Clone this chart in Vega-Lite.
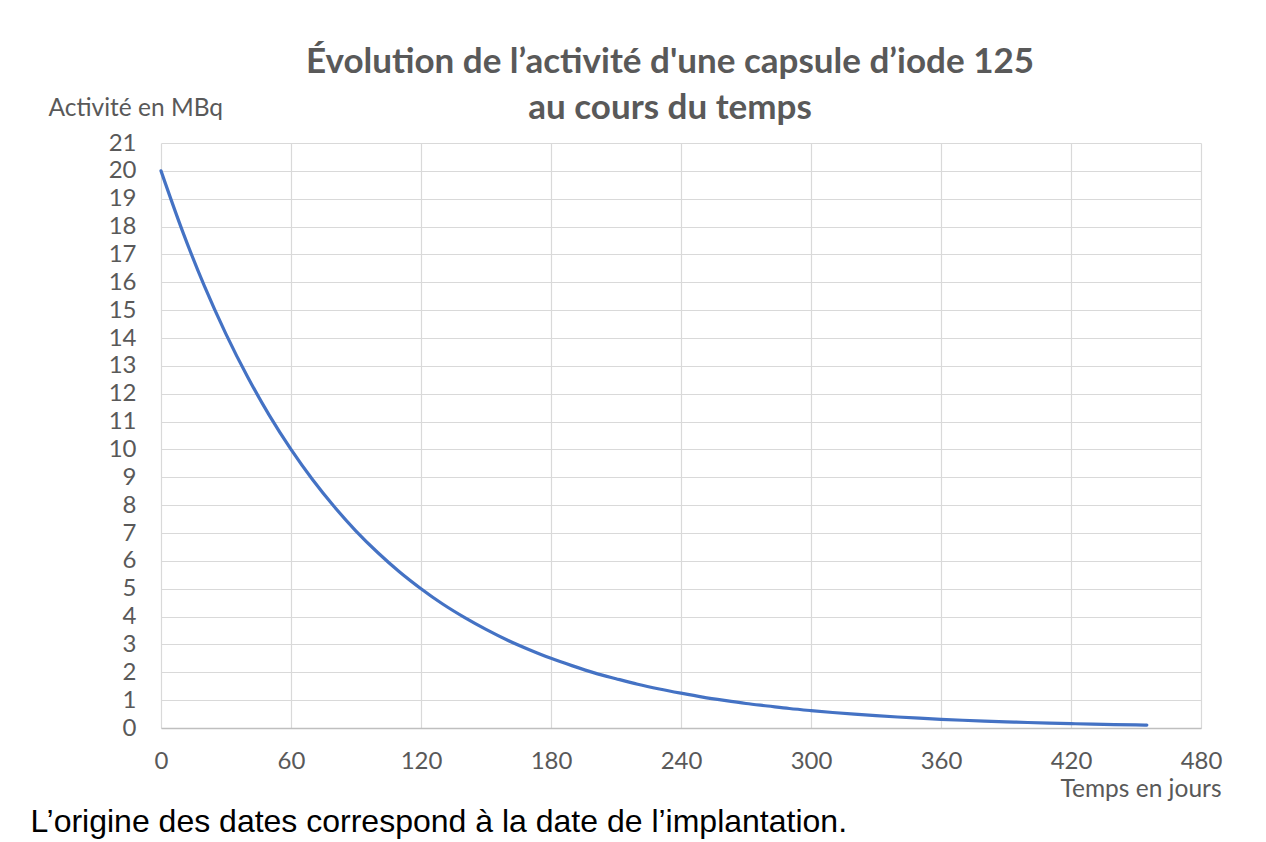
{
  "$schema": "https://vega.github.io/schema/vega-lite/v6.json",
  "width": 1040,
  "height": 585,
  "autosize": {"type": "none"},
  "padding": {"left": 161, "top": 143, "right": 65, "bottom": 114},
  "background": "white",
  "title": {
    "text": ["Évolution de l’activité d'une capsule d’iode 125", "au cours du temps"],
    "font": "Lato",
    "fontSize": 35,
    "fontWeight": "bold",
    "color": "#595959",
    "anchor": "middle",
    "frame": "group",
    "lineHeight": 46,
    "dx": -11,
    "offset": -31
  },
  "data": {
    "values": [
      {"t": 0, "A": 20},
      {"t": 10, "A": 17.82},
      {"t": 20, "A": 15.87},
      {"t": 30, "A": 14.14},
      {"t": 40, "A": 12.6},
      {"t": 50, "A": 11.22},
      {"t": 60, "A": 10},
      {"t": 70, "A": 8.91},
      {"t": 80, "A": 7.94},
      {"t": 90, "A": 7.07},
      {"t": 100, "A": 6.3},
      {"t": 110, "A": 5.61},
      {"t": 120, "A": 5},
      {"t": 130, "A": 4.45},
      {"t": 140, "A": 3.97},
      {"t": 150, "A": 3.54},
      {"t": 160, "A": 3.15},
      {"t": 170, "A": 2.81},
      {"t": 180, "A": 2.5},
      {"t": 190, "A": 2.23},
      {"t": 200, "A": 1.98},
      {"t": 210, "A": 1.77},
      {"t": 220, "A": 1.57},
      {"t": 230, "A": 1.4},
      {"t": 240, "A": 1.25},
      {"t": 250, "A": 1.11},
      {"t": 260, "A": 0.99},
      {"t": 270, "A": 0.88},
      {"t": 280, "A": 0.79},
      {"t": 290, "A": 0.7},
      {"t": 300, "A": 0.625},
      {"t": 310, "A": 0.557},
      {"t": 320, "A": 0.496},
      {"t": 330, "A": 0.442},
      {"t": 340, "A": 0.394},
      {"t": 350, "A": 0.351},
      {"t": 360, "A": 0.313},
      {"t": 370, "A": 0.278},
      {"t": 380, "A": 0.248},
      {"t": 390, "A": 0.221},
      {"t": 400, "A": 0.197},
      {"t": 410, "A": 0.175},
      {"t": 420, "A": 0.156},
      {"t": 430, "A": 0.139},
      {"t": 440, "A": 0.124},
      {"t": 450, "A": 0.11},
      {"t": 455, "A": 0.105}
    ]
  },
  "layer": [
    {
      "mark": {"type": "line", "color": "#4472C4", "strokeWidth": 3.2, "interpolate": "monotone", "strokeCap": "round"},
      "encoding": {
        "x": {
          "field": "t",
          "type": "quantitative",
          "scale": {"domain": [0, 480], "nice": false},
          "axis": {
            "values": [0, 60, 120, 180, 240, 300, 360, 420, 480],
            "title": "Temps en jours",
            "titleX": 1060,
            "titleY": 61,
            "titleAlign": "right",
            "titleAnchor": null,
            "titleBaseline": "middle",
            "titleFont": "Lato",
            "titleFontSize": 24.5,
            "titleFontWeight": "normal",
            "titleColor": "#595959",
            "labelFont": "Lato",
            "labelFontSize": 24,
            "labelColor": "#595959",
            "labelPadding": 21,
            "labelFlush": false,
            "labelBound": false,
            "labelOverlap": false,
            "ticks": false,
            "domainColor": "#bfbfbf",
            "domainWidth": 1.5,
            "gridColor": "#d9d9d9",
            "gridWidth": 1.2
          }
        },
        "y": {
          "field": "A",
          "type": "quantitative",
          "scale": {"domain": [0, 21], "nice": false},
          "axis": {
            "values": [0, 1, 2, 3, 4, 5, 6, 7, 8, 9, 10, 11, 12, 13, 14, 15, 16, 17, 18, 19, 20, 21],
            "title": "Activité en MBq",
            "titleAngle": 0,
            "titleX": -113,
            "titleY": -35,
            "titleAlign": "left",
            "titleAnchor": null,
            "titleBaseline": "middle",
            "titleFont": "Lato",
            "titleFontSize": 24.5,
            "titleFontWeight": "normal",
            "titleColor": "#595959",
            "labelFont": "Lato",
            "labelFontSize": 24,
            "labelColor": "#595959",
            "labelPadding": 25,
            "labelFlush": false,
            "labelOverlap": false,
            "ticks": false,
            "domain": false,
            "gridColor": "#d9d9d9",
            "gridWidth": 1.2
          }
        }
      }
    },
    {
      "mark": {"type": "line", "strokeOpacity": 0},
      "encoding": {
        "x": {"field": "t", "type": "quantitative"},
        "y": {
          "field": "A",
          "type": "quantitative",
          "axis": {
            "orient": "right",
            "title": "L’origine des dates correspond à la date de l’implantation.",
            "labels": false,
            "ticks": false,
            "domain": false,
            "grid": false,
            "titleAngle": 0,
            "titleX": -1171,
            "titleY": 678,
            "titleAlign": "left",
            "titleAnchor": null,
            "titleBaseline": "middle",
            "titleFont": "Liberation Sans",
            "titleFontSize": 32,
            "titleFontWeight": "normal",
            "titleColor": "#000000"
          }
        }
      }
    }
  ],
  "resolve": {"axis": {"y": "independent"}},
  "config": {
    "view": {"stroke": null}
  }
}
